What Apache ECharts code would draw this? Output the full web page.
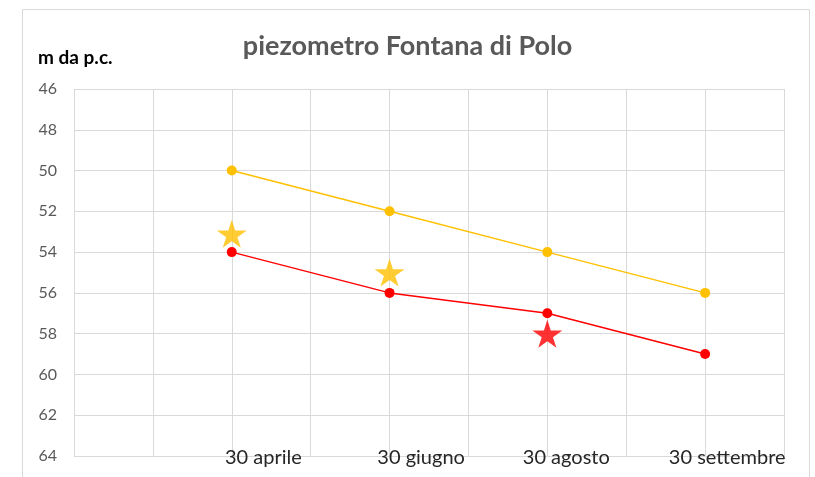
<!DOCTYPE html>
<html>
<head>
<meta charset="utf-8">
<script src="https://cdn.jsdelivr.net/npm/echarts@6/dist/echarts.min.js"></script>
<style>
  html, body { margin: 0; padding: 0; background: #fff; }
  #chart { width: 815px; height: 477px; }
</style>
</head>
<body>
<div id="chart"></div>
<script>
// date labels and where they sit on the 0..9 x scale
var dateLabels = ['30 aprile', '30 giugno', '30 agosto', '30 settembre'];
var datePos = [2, 4, 6, 8];

// levels in m da p.c.
var yellowLine = [50, 52, 54, 56];
var redLine = [54, 56, 57, 59];
var yellowStars = [[2, 53.1], [4, 55]];
var redStars = [[6, 58]];

// labels in the picture are shifted a bit right of the points
var labelShift = [0.4, 0.4, 0.24, 0.28];

var star = 'path://M50,0 L61,35 L98,35 L68,57 L79,91 L50,70 L21,91 L32,57 L2,35 L39,35 Z';

function pts(vals) {
    return vals.map(function (v, i) { return [datePos[i], v]; });
}

var labelAt = datePos.map(function (p, i) { return p + labelShift[i]; });

var chart = echarts.init(document.getElementById('chart'));
chart.setOption({
    animation: false,
    title: {
        text: 'piezometro Fontana di Polo',
        left: 'center',
        top: 28,
        textStyle: { fontFamily: 'Lato', fontSize: 27, fontWeight: 'bold', color: '#595959' }
    },
    graphic: [{
        type: 'rect',
        shape: { x: 22.5, y: 9.5, width: 787, height: 480 },
        style: { fill: 'none', stroke: '#d9d9d9', lineWidth: 1 }
    }],
    grid: { left: 74, right: 31, top: 89, bottom: 21 },
    xAxis: {
        type: 'value',
        min: 0,
        max: 9,
        interval: 1,
        axisLine: { show: false },
        axisTick: { show: false },
        splitLine: { lineStyle: { color: '#d9d9d9', width: 1 } },
        axisLabel: {
            customValues: labelAt,
            margin: -8,
            fontFamily: 'Lato',
            fontSize: 20,
            color: '#262626',
            formatter: function (v) {
                var i = labelAt.indexOf(v);
                return i >= 0 ? dateLabels[i] : '';
            }
        }
    },
    yAxis: {
        type: 'value',
        inverse: true,
        min: 46,
        max: 64,
        interval: 2,
        name: 'm da p.c.',
        nameLocation: 'start',
        nameGap: 22,
        nameTextStyle: { fontFamily: 'Lato', fontSize: 19, fontWeight: 'bold', color: '#000', align: 'left', padding: [0, 0, 0, -36] },
        axisLine: { show: false },
        axisTick: { show: false },
        splitLine: { lineStyle: { color: '#d9d9d9', width: 1 } },
        axisLabel: { margin: 17, fontFamily: 'Lato', fontSize: 16, color: '#595959' }
    },
    series: [{
        type: 'line',
        data: pts(yellowLine),
        symbol: 'circle',
        symbolSize: 10,
        lineStyle: { color: '#FFC000', width: 1.5 },
        itemStyle: { color: '#FFC000' }
    }, {
        type: 'line',
        data: pts(redLine),
        symbol: 'circle',
        symbolSize: 10,
        lineStyle: { color: '#FF0000', width: 1.5 },
        itemStyle: { color: '#FF0000' }
    }, {
        type: 'scatter',
        data: yellowStars,
        symbol: star,
        symbolSize: [30, 28],
        itemStyle: { color: '#FFC000' }
    }, {
        type: 'scatter',
        data: redStars,
        symbol: star,
        symbolSize: [30, 28],
        itemStyle: { color: '#FF0000' }
    }]
});
</script>
</body>
</html>
